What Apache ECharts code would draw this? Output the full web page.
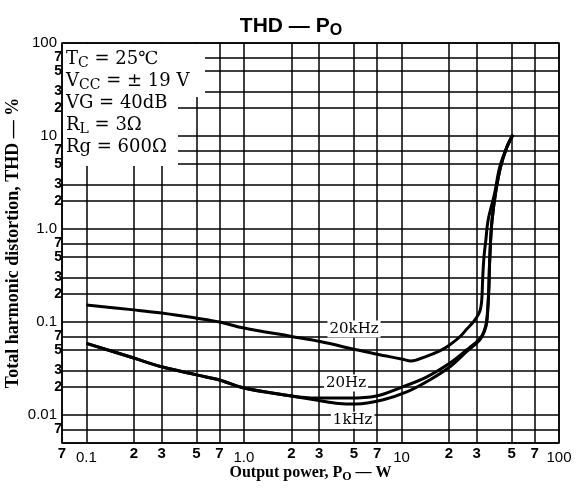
<!DOCTYPE html>
<html><head><meta charset="utf-8">
<script src="https://cdn.jsdelivr.net/npm/echarts@6/dist/echarts.min.js"></script>
<style>html,body{margin:0;padding:0;background:#fff}#c{width:582px;height:492px}</style>
</head><body><div id="c"></div>
<script>
// ---- tick positions and labels ----
const xTicks = [0.07, 0.1, 0.2, 0.3, 0.5, 0.7, 1, 2, 3, 5, 7, 10, 20, 30, 50, 70, 100];
const xTickLabels = ['7', '0.1', '2', '3', '5', '7', '1.0', '2', '3', '5', '7', '10', '2', '3', '5', '7', '100'];
const yTicks = [0.005, 0.007, 0.01, 0.02, 0.03, 0.05, 0.07, 0.1, 0.2, 0.3, 0.5, 0.7, 1, 2, 3, 5, 7, 10, 20, 30, 50, 70, 100];
const yTickLabels = ['5', '7', '0.01', '2', '3', '5', '7', '0.1', '2', '3', '5', '7', '1.0', '2', '3', '5', '7', '10', '2', '3', '5', '7', '100'];

// ---- series data (output power W, THD %) ----
const po20k  = [0.1, 0.2, 0.3, 0.5, 0.7, 1.0, 2.0, 3.0, 5.0, 7.0, 10, 11.5, 14, 17.5, 20, 23.4, 26, 29.2, 31.4, 32.3, 32.8, 33.4, 34.3, 35.5, 39, 42, 46.7, 51];
const thd20k = [0.152, 0.135, 0.125, 0.11, 0.1, 0.086, 0.07, 0.062, 0.051, 0.045, 0.04, 0.038, 0.042, 0.049, 0.056, 0.069, 0.084, 0.105, 0.13, 0.17, 0.3, 0.5, 0.75, 1.25, 2.4, 4.6, 7.6, 10.3];

const po20  = [0.1, 0.2, 0.3, 0.5, 0.7, 1.0, 2.0, 2.87, 4.66, 6.93, 9.71, 14.4, 20.2, 25.9, 31.4, 33.5, 34.8, 35.8, 36.2, 36.8, 37.6, 39.5, 42.5, 46.7, 51];
const thd20 = [0.059, 0.041, 0.033, 0.027, 0.0238, 0.0195, 0.016, 0.0152, 0.0152, 0.016, 0.0195, 0.0256, 0.036, 0.05, 0.066, 0.08, 0.105, 0.22, 0.4, 0.75, 1.25, 2.4, 4.6, 7.6, 10.3];

const po1k  = [0.1, 0.2, 0.3, 0.5, 0.7, 1.0, 2.0, 3.0, 4.0, 5.17, 7.57, 10.8, 15.1, 20.2, 25.9, 31.4, 33.5, 34.8, 35.8, 36.2, 36.8, 37.6, 39.5, 42.5, 46.7, 51];
const thd1k = [0.059, 0.041, 0.033, 0.027, 0.0238, 0.0195, 0.016, 0.0143, 0.0133, 0.0131, 0.0145, 0.0177, 0.0238, 0.0328, 0.048, 0.064, 0.078, 0.1, 0.21, 0.4, 0.75, 1.25, 2.4, 4.6, 7.6, 10.3];

// ---- curve annotation anchors (data space) ----
const curveNames = ['20kHz', '20Hz', '1kHz'];
const labelAt = [[5.0, 0.084], [4.45, 0.0221], [4.9, 0.0088]];

function zip(a, b) { return a.map((v, i) => [v, b[i]]); }
function lab(ticks, labels, v) {
  let best = 0, bd = 1e9;
  ticks.forEach((t, i) => { const d = Math.abs(Math.log10(t) - Math.log10(v)); if (d < bd) { bd = d; best = i; } });
  return labels[best];
}

const chart = echarts.init(document.getElementById('c'), null, {renderer: 'canvas'});
const sans = 'Liberation Sans';
const serif = 'Liberation Serif';
const boxSerif = 'DejaVu Serif';

function mkSeries(name, xs, ys, idx) {
  return {
    name: name, type: 'line', data: zip(xs, ys), showSymbol: false, symbol: 'none',
    smooth: 0.35,
    lineStyle: {color: '#000', width: 3},
    z: 3,
    markPoint: {
      symbol: 'rect', symbolSize: 0, silent: true,
      data: [{coord: labelAt[idx], value: name}],
      label: {show: true, position: 'inside', formatter: name, color: '#000',
        fontFamily: boxSerif, fontSize: 15, backgroundColor: '#fff', padding: [1, 2]}
    }
  };
}

chart.setOption({
  animation: false,
  backgroundColor: '#fff',
  title: {
    text: '{a|THD — P}{s|O}', left: 'center', top: 8,
    textStyle: {rich: {
      a: {fontSize: 21, fontFamily: sans, color: '#000', lineHeight: 26},
      s: {fontSize: 16, fontFamily: sans, color: '#000', lineHeight: 10, verticalAlign: 'bottom'}
    }}
  },
  grid: {left: 62, right: 23, top: 43, bottom: 49, show: true, borderColor: '#000', borderWidth: 1.5,
    containLabel: false, outerBoundsMode: 'none'},
  xAxis: {
    type: 'log', logBase: 10, min: 0.07, max: 100,
    axisLine: {show: false},
    axisTick: {show: false, customValues: xTicks},
    splitLine: {show: true, lineStyle: {color: '#000', width: 1.5}},
    axisLabel: {
      customValues: xTicks, margin: 3,
      formatter: function (v) { const t = lab(xTicks, xTickLabels, v); return t.length > 1 ? '{M|' + t + '}' : '{m|' + t + '}'; },
      rich: {
        M: {fontSize: 15, fontFamily: sans, color: '#000', padding: [4, 0, 0, 0]},
        m: {fontSize: 15, fontFamily: sans, color: '#000', fontWeight: 'bold'}
      }
    },
    name: '{b|Output power, P}{s|O}{b| — W}', nameLocation: 'middle', nameGap: 20, nameMoveOverlap: false,
    nameTextStyle: {rich: {
      b: {fontSize: 16, fontFamily: serif, fontWeight: 'bold', color: '#000', lineHeight: 20},
      s: {fontSize: 12, fontFamily: serif, fontWeight: 'bold', color: '#000', lineHeight: 8, verticalAlign: 'bottom'}
    }}
  },
  yAxis: {
    type: 'log', logBase: 10, min: 0.005, max: 100,
    axisLine: {show: false},
    axisTick: {show: false, customValues: yTicks},
    splitLine: {show: true, lineStyle: {color: '#000', width: 1.5}},
    axisLabel: {
      customValues: yTicks, margin: 0,
      formatter: function (v) { const t = lab(yTicks, yTickLabels, v); return t.length > 1 ? '{M|' + t + '}' : '{m|' + t + '}'; },
      rich: {
        M: {fontSize: 15, fontFamily: sans, color: '#000', padding: [0, 5, 0, 0]},
        m: {fontSize: 14, fontFamily: sans, color: '#000', fontWeight: 'bold'}
      }
    },
    name: 'Total harmonic distortion, THD — %', nameLocation: 'middle', nameGap: 40, nameMoveOverlap: false,
    nameTextStyle: {fontSize: 18, fontFamily: serif, fontWeight: 'bold', color: '#000'}
  },
  graphic: [
    {type: 'rect', z: 100, shape: {x: 63, y: 44, width: 115, height: 122}, style: {fill: '#fff'}},
    {type: 'rect', z: 100, shape: {x: 63, y: 44, width: 142, height: 53}, style: {fill: '#fff'}},
    {type: 'text', z: 101, x: 66, y: 48, style: {
      text: ['{n|T}{s|C}{n| = 25℃}', '{n|V}{s|CC}{n| = ± 19 V}', '{n|VG = 40dB}', '{n|R}{s|L}{n| = 3Ω}', '{n|Rg = 600Ω}'].join('\n'),
      rich: {
        n: {fontSize: 18, fontFamily: boxSerif, fill: '#000', lineHeight: 22},
        s: {fontSize: 14, fontFamily: boxSerif, fill: '#000', lineHeight: 10, verticalAlign: 'bottom'}
      }
    }}
  ],
  series: [
    mkSeries(curveNames[0], po20k, thd20k, 0),
    mkSeries(curveNames[1], po20, thd20, 1),
    mkSeries(curveNames[2], po1k, thd1k, 2)
  ]
});
</script></body></html>
